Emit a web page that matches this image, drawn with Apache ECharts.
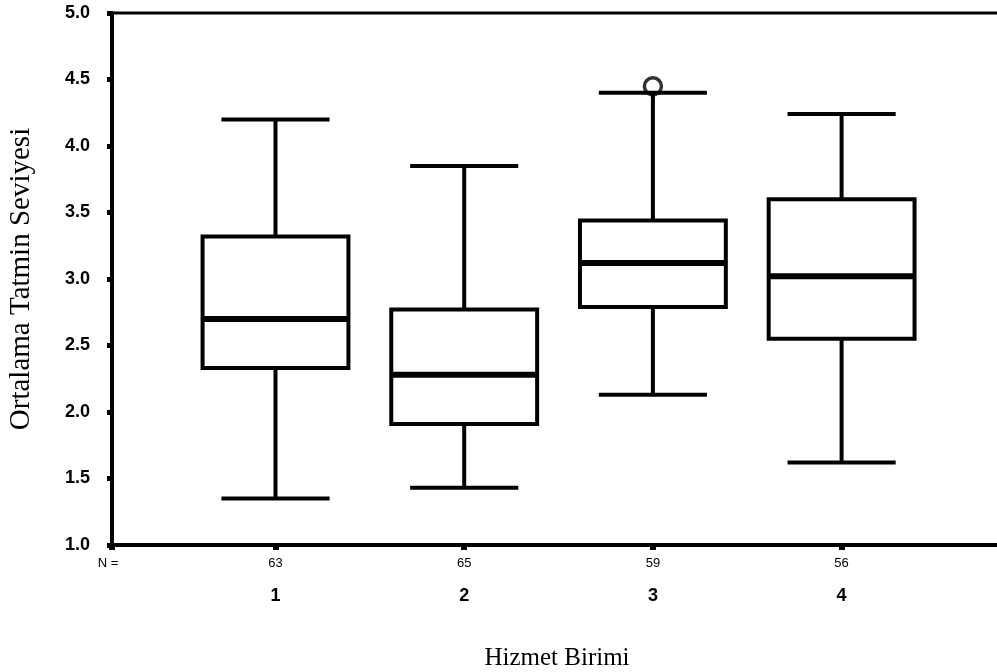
<!DOCTYPE html>
<html>
<head>
<meta charset="utf-8">
<script src="https://cdn.jsdelivr.net/npm/echarts@6/dist/echarts.min.js"></script>
<style>html,body{margin:0;padding:0;background:#fff}#c{width:997px;height:672px}</style>
</head>
<body>
<div id="c"></div>
<script>
// ---- data ----
const categories = [1, 2, 3, 4];
const nValues = [63, 65, 59, 56];
const whiskerLow = [1.35, 1.43, 2.13, 1.62];
const q1 = [2.33, 1.91, 2.79, 2.55];
const median = [2.70, 2.28, 3.12, 3.02];
const q3 = [3.32, 2.77, 3.44, 3.60];
const whiskerHigh = [4.20, 3.85, 4.40, 4.24];
const outliers = [[3, 4.45]];
const yTickLabels = ['1.0', '1.5', '2.0', '2.5', '3.0', '3.5', '4.0', '4.5', '5.0'];

const xMin = 0.1336, xMax = 4.85;
const boxWidth = 0.773, capWidth = 0.573;

const boxData = categories.map((c, i) => [c, whiskerLow[i], q1[i], median[i], q3[i], whiskerHigh[i]]);

const chart = echarts.init(document.getElementById('c'), null, {renderer: 'canvas'});

function renderBox(params, api) {
  const x = api.value(0);
  const pLow = api.coord([x, api.value(1)]);
  const pQ1 = api.coord([x, api.value(2)]);
  const pMed = api.coord([x, api.value(3)]);
  const pQ3 = api.coord([x, api.value(4)]);
  const pHigh = api.coord([x, api.value(5)]);
  const bw = api.size([boxWidth, 0])[0];
  const cw = api.size([capWidth, 0])[0];
  const cx = pMed[0];
  const stroke = {stroke: '#000', lineWidth: 4, fill: null};
  return {
    type: 'group',
    children: [
      {type: 'line', shape: {x1: cx, y1: pHigh[1], x2: cx, y2: pQ3[1]}, style: stroke},
      {type: 'line', shape: {x1: cx, y1: pQ1[1], x2: cx, y2: pLow[1]}, style: stroke},
      {type: 'line', shape: {x1: cx - cw / 2, y1: pHigh[1], x2: cx + cw / 2, y2: pHigh[1]}, style: stroke},
      {type: 'line', shape: {x1: cx - cw / 2, y1: pLow[1], x2: cx + cw / 2, y2: pLow[1]}, style: stroke},
      {type: 'rect', shape: {x: cx - bw / 2, y: pQ3[1], width: bw, height: pQ1[1] - pQ3[1]},
        style: {stroke: '#000', lineWidth: 4, fill: '#fff'}},
      {type: 'line', shape: {x1: cx - bw / 2, y1: pMed[1], x2: cx + bw / 2, y2: pMed[1]},
        style: {stroke: '#000', lineWidth: 6}}
    ]
  };
}

const option = {
  backgroundColor: '#fff',
  animation: false,
  grid: {left: 112, right: -5, top: 13, bottom: 127, containLabel: false, outerBoundsMode: 'none',
    show: true, borderColor: '#000', borderWidth: 3, backgroundColor: 'transparent'},
  xAxis: [
    {
      type: 'value', min: xMin, max: xMax, position: 'bottom',
      axisLine: {show: true, onZero: false, lineStyle: {color: '#000', width: 4}},
      axisTick: {show: true, customValues: [xMin].concat(categories), length: 5, lineStyle: {color: '#000', width: 6}},
      splitLine: {show: false},
      axisLabel: {
        customValues: [xMin].concat(categories), margin: 12, color: '#000',
        fontFamily: 'Liberation Sans', fontSize: 13,
        formatter: function (v) {
          if (v < 0.5) return '{l|N =}';
          const i = categories.indexOf(Math.round(v));
          return i >= 0 ? String(nValues[i]) : '';
        },
        rich: {l: {fontFamily: 'Liberation Sans', fontSize: 13, color: '#000', padding: [0, 8, 0, 0]}}
      }
    },
    {
      type: 'value', min: xMin, max: xMax, position: 'bottom',
      axisLine: {show: false}, axisTick: {show: false}, splitLine: {show: false},
      axisLabel: {
        customValues: categories, margin: 42, color: '#000',
        fontFamily: 'Liberation Sans', fontSize: 18, fontWeight: 'bold',
        formatter: function (v) { return String(v); }
      },
      name: 'Hizmet Birimi', nameLocation: 'middle', nameGap: 101,
      nameTextStyle: {fontFamily: 'Liberation Serif', fontSize: 25, color: '#000'}
    }
  ],
  yAxis: {
    type: 'value', min: 1, max: 5, interval: 0.5,
    axisLine: {show: true, lineStyle: {color: '#000', width: 4}},
    axisTick: {show: true, length: 5, lineStyle: {color: '#000', width: 5}},
    splitLine: {show: false},
    axisLabel: {
      margin: 22, color: '#000', fontFamily: 'Liberation Sans', fontSize: 18, fontWeight: 'bold',
      formatter: function (v) { return yTickLabels[Math.round((v - 1) / 0.5)]; }
    },
    name: 'Ortalama Tatmin Seviyesi', nameLocation: 'middle', nameGap: 76,
    nameTextStyle: {fontFamily: 'Liberation Serif', fontSize: 29, color: '#000'}
  },
  series: [
    {
      type: 'scatter', xAxisIndex: 0, data: outliers, symbol: 'circle', symbolSize: 17, z: 1,
      itemStyle: {color: '#fff', borderColor: '#000', borderWidth: 3.5}
    },
    {
      type: 'custom', xAxisIndex: 0, data: boxData, renderItem: renderBox, z: 2,
      encode: {x: 0, y: [1, 2, 3, 4, 5]}
    }
  ]
};
chart.setOption(option);
</script>
</body>
</html>
